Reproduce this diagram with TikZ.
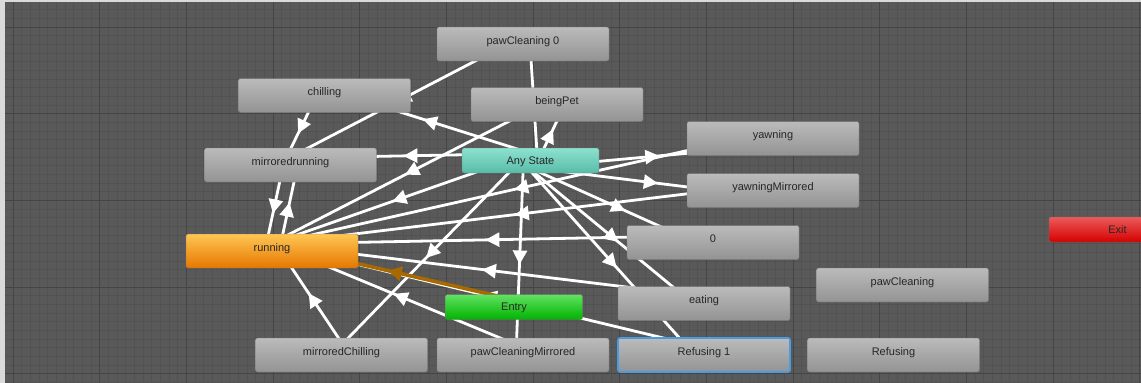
\documentclass[tikz,border=0pt]{standalone}
\usepackage{fontspec}
\setmainfont{Liberation Sans}
\usetikzlibrary{calc,arrows.meta,decorations.markings}

\definecolor{canvas}{HTML}{595959}
\definecolor{minorgrid}{HTML}{525252}
\definecolor{majorgrid}{HTML}{454545}
\definecolor{rim}{HTML}{DADADA}
\definecolor{boxtop}{HTML}{BBBBBB}
\definecolor{boxbot}{HTML}{939393}
\definecolor{anytop}{HTML}{8CE2CE}
\definecolor{anybot}{HTML}{58BCA8}
\definecolor{entrytop}{HTML}{62E262}
\definecolor{entrybot}{HTML}{00B300}
\definecolor{exittop}{HTML}{EC5A5A}
\definecolor{exitbot}{HTML}{D40000}
\definecolor{runtop}{HTML}{FFC654}
\definecolor{runbot}{HTML}{E57700}
\definecolor{entrywire}{HTML}{A86A00}
\definecolor{pickblue}{HTML}{4A9BE2}

\pgfdeclarelayer{grid}
\pgfdeclarelayer{wires}
\pgfsetlayers{grid,wires,main}

\tikzset{
  state/.style={rectangle, rounded corners=2pt, minimum width=172pt, minimum height=34pt,
    top color=boxtop, bottom color=boxbot, draw=black!55, line width=0.4pt,
    font=\fontsize{11}{13}\selectfont, text=black!85, text height=4pt, text depth=4pt},
  smallstate/.style={state, minimum width=137pt, minimum height=25pt,
    text height=7.6pt, text depth=0pt},
  anystate/.style={smallstate, top color=anytop, bottom color=anybot},
  entrystate/.style={smallstate, top color=entrytop, bottom color=entrybot},
  exitstate/.style={smallstate, top color=exittop, bottom color=exitbot},
  runstate/.style={state, top color=runtop, bottom color=runbot},
  picked/.style={draw=pickblue, line width=1.6pt},
  trans/.style={draw=white, line width=2.8pt, postaction={decorate},
    decoration={markings, mark=at position 0.5 with
      {\arrow[xshift=7pt]{Triangle[width=14pt,length=14pt]}}}},
  defaulttrans/.style={trans, draw=entrywire, line width=3.6pt}
}

\newcommand\wire[3][trans]{\draw[#1] ($(#2)!7pt!-90:(#3)$) -- ($(#3)!7pt!90:(#2)$);}

\begin{document}
\begin{tikzpicture}[x=1pt,y=-1pt]
\useasboundingbox (0,0) rectangle (1141,383);
\clip (0,0) rectangle (1141,383);

\node[state] (pc0) at (523,44) {pawCleaning 0};
\node[state] (chill) at (324.5,95.5) {chilling};
\node[state] (pet) at (557,104.5) {beingPet};
\node[state] (mirrun) at (290.5,165) {mirroredrunning};
\node[anystate] (any) at (530.5,160.5) {Any State};
\node[state] (yawn) at (773,138.5) {yawning};
\node[state] (yawnmir) at (773,190.5) {yawningMirrored};
\node[runstate] (run) at (272,251) {running};
\node[state] (zero) at (713,242.5) {0};
\node[exitstate] (exit) at (1117.5,229.5) {Exit};
\node[state] (paw) at (902.5,285) {pawCleaning};
\node[state] (eat) at (704,303.5) {eating};
\node[entrystate] (entry) at (514,307) {Entry};
\node[state] (mirchill) at (341.5,355) {mirroredChilling};
\node[state] (pawmir) at (523,355) {pawCleaningMirrored};
\node[state, picked] (ref1) at (704,355) {Refusing 1};
\node[state] (ref) at (893.5,355) {Refusing};

\begin{pgfonlayer}{grid}
\fill[canvas] (0,0) rectangle (1141,383);
\foreach \i in {0,...,131} \draw[minorgrid, line width=0.6pt] (4.333+8.667*\i,0) -- (4.333+8.667*\i,383);
\foreach \i in {0,...,44} \draw[minorgrid, line width=0.6pt] (0,1+8.667*\i) -- (1141,1+8.667*\i);
\foreach \i in {0,...,13} \draw[majorgrid, line width=1pt] (13+86.667*\i,0) -- (13+86.667*\i,383);
\foreach \i in {0,...,4} \draw[majorgrid, line width=1pt] (0,27+86.667*\i) -- (1141,27+86.667*\i);
\fill[rim] (0,0) rectangle (5,383);
\fill[rim] (0,0) rectangle (1141,2);
\end{pgfonlayer}

\begin{pgfonlayer}{wires}
\wire{pc0}{mirrun}
\wire{chill}{mirrun}
\wire{mirrun}{run}
\wire{run}{mirrun}
\wire{pet}{run}
\wire{any}{pc0}
\wire{any}{pet}
\wire{any}{chill}
\wire{any}{mirrun}
\wire{any}{run}
\wire{any}{yawn}
\wire{any}{yawnmir}
\wire{any}{zero}
\wire{any}{eat}
\wire{any}{ref1}
\wire{any}{mirchill}
\wire{any}{pawmir}
\wire{yawn}{run}
\wire{yawnmir}{run}
\wire{zero}{run}
\wire{eat}{run}
\wire{ref1}{run}
\wire{pawmir}{run}
\wire{mirchill}{run}
\wire[defaulttrans]{entry}{run}
\end{pgfonlayer}
\end{tikzpicture}
\end{document}
